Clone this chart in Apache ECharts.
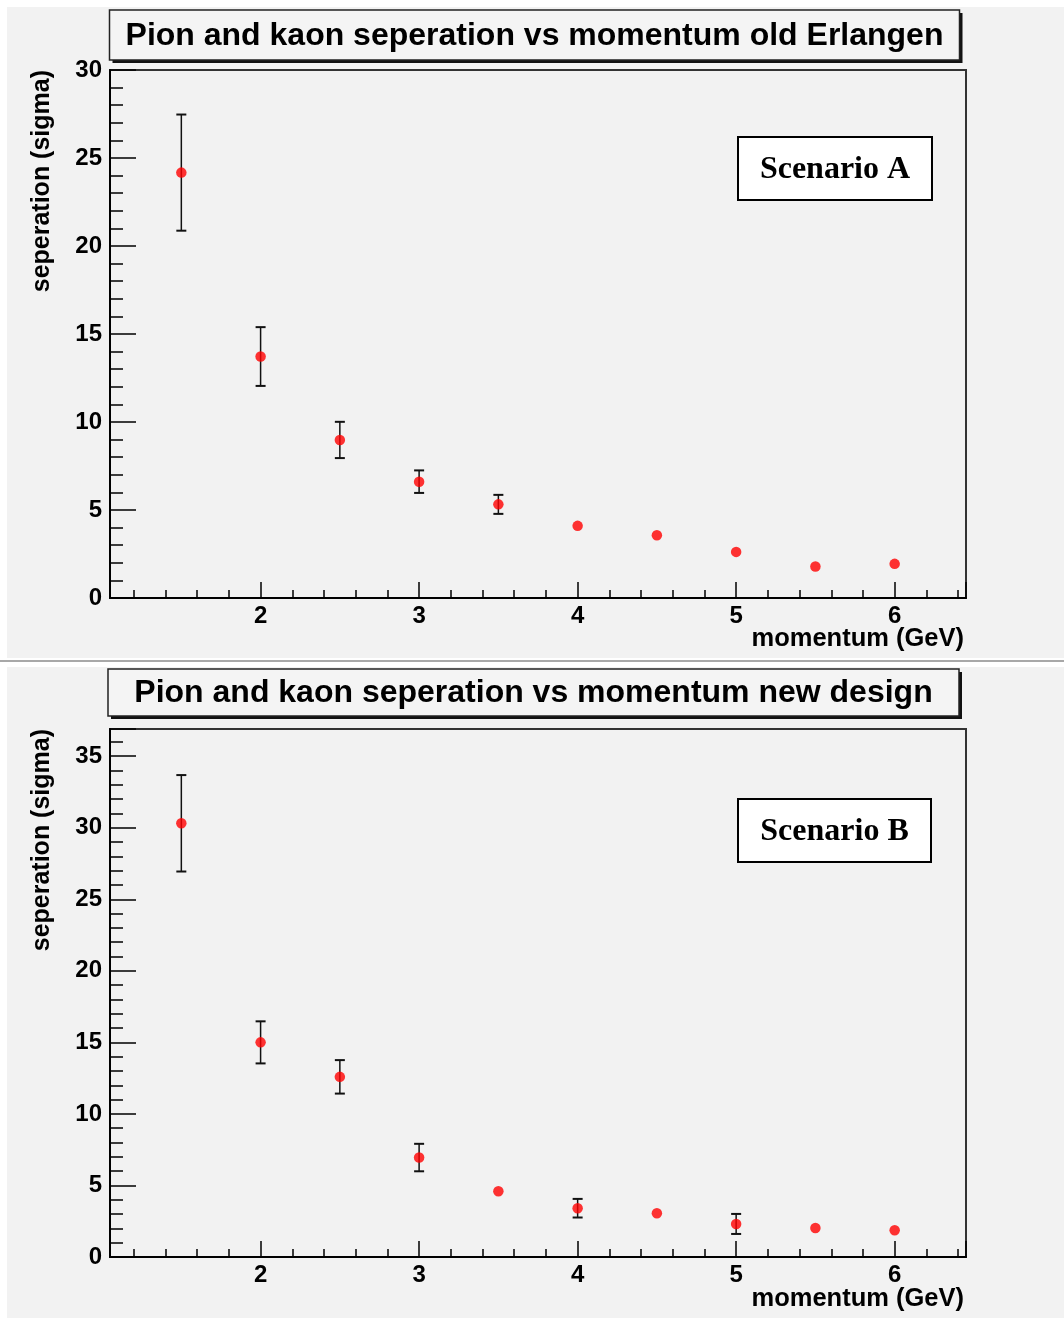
<!DOCTYPE html>
<html><head><meta charset="utf-8">
<script src="https://cdn.jsdelivr.net/npm/echarts@6/dist/echarts.min.js"></script>
<style>html,body{margin:0;padding:0;background:#fff}#c{width:1064px;height:1318px}</style>
</head><body><div id="c"></div>
<script>
// ---- data ----
const momentum = [1.5, 2, 2.5, 3, 3.5, 4, 4.5, 5, 5.5, 6];
const sepA = [24.17, 13.72, 8.98, 6.61, 5.32, 4.10, 3.57, 2.62, 1.79, 1.94];
const errA = [3.30, 1.67, 1.03, 0.64, 0.54, 0, 0, 0, 0, 0];
const sepB = [30.31, 15.00, 12.59, 6.95, 4.59, 3.41, 3.06, 2.31, 2.03, 1.87];
const errB = [3.37, 1.47, 1.17, 0.96, 0, 0.65, 0, 0.70, 0, 0];
const titleA = 'Pion and kaon seperation vs momentum old Erlangen';
const titleB = 'Pion and kaon seperation vs momentum new design';
const scenarioA = 'Scenario A';
const scenarioB = 'Scenario B';
const xName = 'momentum (GeV)';
const yName = 'seperation (sigma)';
const xRange = [1.05, 6.45];
const yMaxA = 30;
const yMaxB = 36.9;

// ---- layout ----
const SANS = '"Liberation Sans", Arial, Helvetica, sans-serif';
const SERIF = '"Liberation Serif", "Times New Roman", serif';
const BG = '#f2f2f2';
const grids = [
  {left: 110, top: 70, width: 856, height: 528},
  {left: 110, top: 729, width: 856, height: 528}
];

function xAxis(i) {
  return {
    type: 'value', gridIndex: i, min: xRange[0], max: xRange[1], splitNumber: 5,
    axisLine: {onZero: false, lineStyle: {color: '#000', width: 2}},
    axisTick: {inside: true, length: 16, lineStyle: {color: '#000', width: 1.5}},
    minorTick: {show: true, splitNumber: 5, length: 8, lineStyle: {color: '#000', width: 1.5}},
    splitLine: {show: false}, minorSplitLine: {show: false},
    axisLabel: {color: '#000', fontFamily: SANS, fontWeight: 'bold', fontSize: 24, margin: 6,
      showMinLabel: false, showMaxLabel: false}
  };
}
function yAxis(i, max, splitNumber, hideMax) {
  return {
    type: 'value', gridIndex: i, min: 0, max: max, splitNumber: splitNumber,
    axisLine: {onZero: false, lineStyle: {color: '#000', width: 2}},
    axisTick: {inside: true, length: 26, lineStyle: {color: '#000', width: 1.5}},
    minorTick: {show: true, splitNumber: 5, length: 13, lineStyle: {color: '#000', width: 1.5}},
    splitLine: {show: false}, minorSplitLine: {show: false},
    axisLabel: {color: '#000', fontFamily: SANS, fontWeight: 'bold', fontSize: 24, margin: 8,
      padding: [5, 0, 0, 0], showMaxLabel: !hideMax}
  };
}
function errSeries(i, ys, es) {
  return {
    type: 'custom', xAxisIndex: i, yAxisIndex: i, silent: true, z: 2,
    encode: {x: 0, y: 1},
    data: momentum.map((x, k) => [x, ys[k], es[k]]),
    renderItem(params, api) {
      const x = api.value(0), y = api.value(1), e = api.value(2);
      if (!(e > 0)) return null;
      const t = api.coord([x, y + e]);
      const b = api.coord([x, y - e]);
      const st = {stroke: '#111', lineWidth: 1.5};
      return {type: 'group', children: [
        {type: 'line', shape: {x1: t[0], y1: t[1], x2: b[0], y2: b[1]}, style: st},
        {type: 'line', shape: {x1: t[0] - 5, y1: t[1], x2: t[0] + 5, y2: t[1]}, style: {stroke: '#111', lineWidth: 2}},
        {type: 'line', shape: {x1: b[0] - 5, y1: b[1], x2: b[0] + 5, y2: b[1]}, style: {stroke: '#111', lineWidth: 2}}
      ]};
    }
  };
}
function pointSeries(i, ys) {
  return {
    type: 'scatter', xAxisIndex: i, yAxisIndex: i, z: 3, symbol: 'circle', symbolSize: 10.5,
    itemStyle: {color: '#ff0000'}, silent: true,
    data: momentum.map((x, k) => [x, ys[k]])
  };
}
function titleBox(x, y, w, h, text) {
  return [
    {type: 'rect', z: 50, shape: {x: x + 3, y: y + 3, width: w, height: h}, style: {fill: '#111'}},
    {type: 'rect', z: 51, shape: {x: x, y: y, width: w, height: h}, style: {fill: '#f4f4f4', stroke: '#222', lineWidth: 1.5}},
    {type: 'text', z: 52, x: x + w / 2, y: y + h / 2 + 1, style: {text: text, font: 'bold 32px ' + SANS, fill: '#000', align: 'center', verticalAlign: 'middle'}}
  ];
}
function scenBox(x, y, w, h, text) {
  return [
    {type: 'rect', z: 50, shape: {x: x, y: y, width: w, height: h}, style: {fill: '#fff', stroke: '#000', lineWidth: 2}},
    {type: 'text', z: 52, x: x + w / 2, y: y + h / 2 + 1, style: {text: text, font: 'bold 32px ' + SERIF, fill: '#000', align: 'center', verticalAlign: 'middle'}}
  ];
}
function axisNames(g, xNameY) {
  return [
    {type: 'text', z: 52, x: 42, y: g.top, rotation: Math.PI / 2,
      style: {text: yName, font: 'bold 25px ' + SANS, fill: '#000', align: 'right', verticalAlign: 'middle'}},
    {type: 'text', z: 52, x: g.left + g.width - 2, y: xNameY,
      style: {text: xName, font: 'bold 25.5px ' + SANS, fill: '#000', align: 'right', verticalAlign: 'middle'}}
  ];
}

const graphic = [
  {type: 'rect', z: -100, shape: {x: 7, y: 7, width: 1057, height: 651}, style: {fill: BG}},
  {type: 'rect', z: -100, shape: {x: 7, y: 667, width: 1057, height: 651}, style: {fill: BG}},
  {type: 'line', z: -100, shape: {x1: 0, y1: 661, x2: 1064, y2: 661}, style: {stroke: '#a8a8a8', lineWidth: 2}}
].concat(
  titleBox(109.5, 10, 850, 50, titleA),
  titleBox(108, 669, 851, 47, titleB),
  scenBox(738, 137, 194, 63, scenarioA),
  scenBox(738, 799, 193, 63, scenarioB),
  axisNames(grids[0], 639),
  axisNames(grids[1], 1299)
);

const chart = echarts.init(document.getElementById('c'), null, {renderer: 'canvas'});
chart.setOption({
  backgroundColor: '#fff',
  animation: false,
  grid: grids.map(g => Object.assign({show: true, backgroundColor: BG, borderColor: '#333', borderWidth: 2,
    containLabel: false, outerBoundsMode: 'none'}, g)),
  xAxis: [xAxis(0), xAxis(1)],
  yAxis: [yAxis(0, yMaxA, 6, false), yAxis(1, yMaxB, 7, true)],
  series: [errSeries(0, sepA, errA), pointSeries(0, sepA), errSeries(1, sepB, errB), pointSeries(1, sepB)],
  graphic: graphic
});
</script>
</body></html>
